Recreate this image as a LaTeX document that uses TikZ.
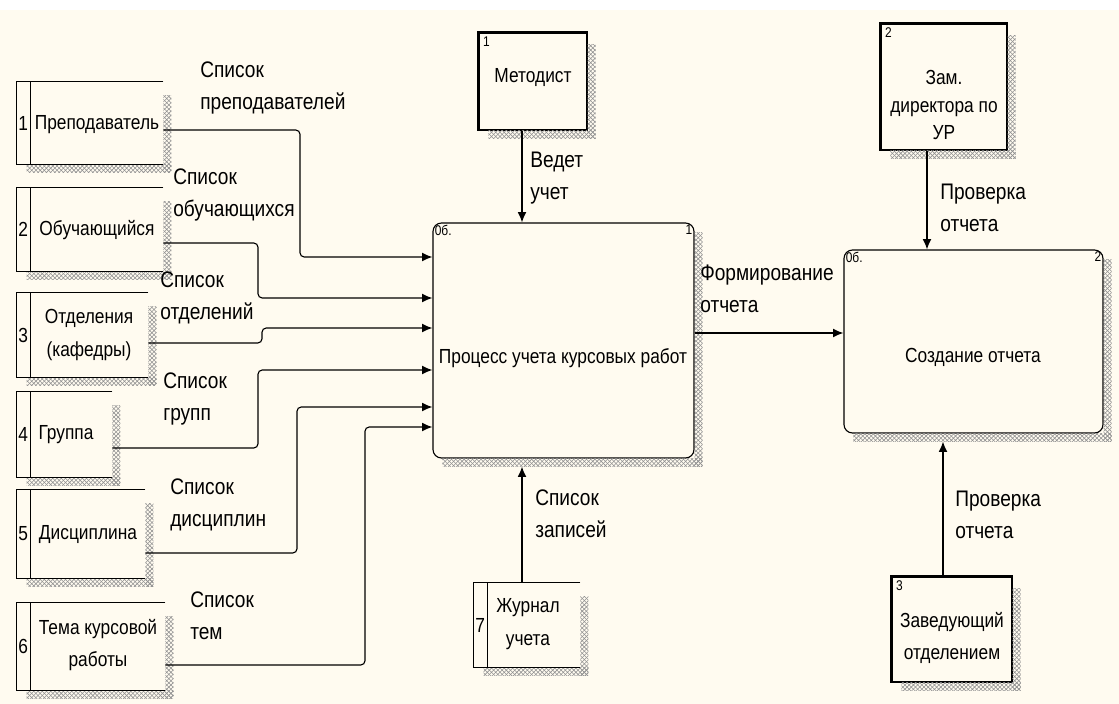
\documentclass[tikz,border=0pt]{standalone}
\usepackage{fontspec}
\usepackage{tikz}
\usetikzlibrary{arrows.meta, positioning, fit, patterns}
\newfontfamily\bpfont{Liberation Sans}[FakeStretch=0.85]
\definecolor{paper}{RGB}{255,251,240}

\tikzset{
  rule/.style={line width=0.8pt},
  hatch/.style={pattern=crosshatch, pattern color=gray!85},
  flow/.style={rule, rounded corners=3pt, -{Latex[length=2.6mm,width=2.2mm]}},
  lbl/.style={font=\bpfont\fontsize{16}{22.5}\selectfont, align=left, anchor=west, inner sep=0pt},
  btxt/.style={font=\bpfont\fontsize{14.5}{23}\selectfont, align=center, inner sep=0pt},
  tag/.style={font=\bpfont\fontsize{10}{11}\selectfont, inner sep=1.5pt},
  store/.style={inner sep=0pt},
  extbox/.style={rule, draw, inner sep=0pt},
  procbox/.style={rule, draw, rounded corners=6pt, inner sep=0pt},
}

\begin{document}
\begin{tikzpicture}[x=0.025cm, y=-0.025cm]
  \useasboundingbox (0,0) rectangle (1119,704);
  \fill[paper] (0,10) rectangle (1119,704);

  \node[store, fit={(31,82) (163,164)}, label={[btxt, label distance=0.6mm]left:1}] (s1) {};
  \node[store, fit={(31,188) (163,271)}, label={[btxt, label distance=0.6mm]left:2}] (s2) {};
  \node[store, fit={(31,293) (148,377)}, label={[btxt, label distance=0.6mm]left:3}] (s3) {};
  \node[store, fit={(31,392) (112,477)}, label={[btxt, label distance=0.6mm]left:4}] (s4) {};
  \node[store, fit={(31,490) (145,578)}, label={[btxt, label distance=0.6mm]left:5}] (s5) {};
  \node[store, fit={(31,603) (165,690)}, label={[btxt, label distance=0.6mm]left:6}] (s6) {};
  \node[store, fit={(488,583) (580,667)}, label={[btxt, label distance=0.6mm]left:7}] (s7) {};
  \node[btxt] (s1t) at (97,125) {Преподаватель};
  \node[btxt] (s2t) at (97,230) {Обучающийся};
  \node[btxt] (s3t) at (89,335) {Отделения\\(кафедры)};
  \node[btxt] (s4t) at (66,435) {Группа};
  \node[btxt] (s5t) at (88,535) {Дисциплина};
  \node[btxt] (s6t) at (98,645) {Тема курсовой\\работы};
  \node[btxt] (s7t) at (528,624) {Журнал\\учета};

  \node[extbox, fit={(479,33) (587,130)}, label={[tag, anchor=north west, xshift=0.6mm, yshift=-0.5mm]north west:1}] (m1) {};
  \node[extbox, fit={(881,24) (1007,150)}, label={[tag, anchor=north west, xshift=0.6mm, yshift=-0.5mm]north west:2}] (m2) {};
  \node[extbox, fit={(892,577) (1012,682)}, label={[tag, anchor=north west, xshift=0.6mm, yshift=-0.5mm]north west:3}] (m3) {};
  \node[btxt] (m1t) at (533,78) {Методист};
  \node[btxt, font=\bpfont\fontsize{14.5}{19.5}\selectfont] (m2t) at (944,105) {Зам.\\директора по\\УР};
  \node[btxt] (m3t) at (952,638) {Заведующий\\отделением};

  \node[procbox, fit={(433,223) (694,458)}, label={[tag, anchor=north west]north west:0б.}, label={[tag, anchor=north east]north east:1}] (p1) {};
  \node[procbox, fit={(844,250) (1103,433)}, label={[tag, anchor=north west]north west:0б.}, label={[tag, anchor=north east]north east:2}] (p2) {};
  \node[btxt] (p1t) at (563,358) {Процесс учета курсовых работ};
  \node[btxt] (p2t) at (973,357) {Создание отчета};

  \foreach \n in {s1,s2,s3,s4,s5,s6,s7} {
    \fill[hatch] ([yshift=-3.5mm]\n.north east) rectangle ([xshift=2mm,yshift=-2mm]\n.south east);
    \fill[hatch] ([xshift=-1mm]\n.south west) rectangle ([xshift=2mm,yshift=-2mm]\n.south east);
    \draw[rule] (\n.north east) -- ([xshift=-3.5mm]\n.north west) -- ([xshift=-3.5mm]\n.south west) -- (\n.south east);
    \draw[rule] (\n.north west) -- (\n.south west);
  }
  \foreach \n in {m1,m2,m3} {
    \fill[hatch] ([yshift=-3mm]\n.north east) rectangle ([xshift=2mm,yshift=-2mm]\n.south east);
    \fill[hatch] ([xshift=2.5mm]\n.south west) rectangle ([xshift=2mm,yshift=-2mm]\n.south east);
    \draw[line width=2.4pt] (\n.south west) -- (\n.north west) -- (\n.north east);
  }
  \foreach \n in {p1,p2} {
    \fill[hatch] ([yshift=-2.5mm]\n.north east) rectangle ([xshift=2mm,yshift=-2mm]\n.south east);
    \fill[hatch] ([xshift=2.5mm]\n.south west) rectangle ([xshift=2mm,yshift=-2mm]\n.south east);
  }

  \draw[flow] (s1.east |- 0,130) -- (300,130) -- (300,257) -- (p1.west |- 0,257);
  \draw[flow] (s2.east |- 0,243) -- (258,243) -- (258,298) -- (p1.west |- 0,298);
  \draw[flow] (s3.east |- 0,343) -- (262,343) -- (262,328) -- (p1.west |- 0,328);
  \draw[flow] (s4.east |- 0,448) -- (258,448) -- (258,370) -- (p1.west |- 0,370);
  \draw[flow] (s5.east |- 0,553) -- (297,553) -- (297,407) -- (p1.west |- 0,407);
  \draw[flow] (s6.east |- 0,665) -- (365,665) -- (365,427) -- (p1.west |- 0,427);
  \draw[flow] (m1.south -| 522,0) -- (p1.north -| 522,0);
  \draw[flow] (p1.east |- 0,333) -- (p2.west |- 0,333);
  \draw[flow] (m2.south -| 927,0) -- (p2.north -| 927,0);
  \draw[flow] (m3.north -| 943,0) -- ([yshift=-2mm]p2.south -| 943,0);
  \draw[flow] (s7.north -| 522,0) -- ([yshift=-2mm]p1.south -| 522,0);

  \node[lbl] (l1) at (200,88) {Список\\преподавателей};
  \node[lbl] (l2) at (173,195) {Список\\обучающихся};
  \node[lbl] (l3) at (160,298) {Список\\отделений};
  \node[lbl] (l4) at (163,399) {Список\\групп};
  \node[lbl] (l5) at (170,505) {Список\\дисциплин};
  \node[lbl] (l6) at (190,616) {Список\\тем};
  \node[lbl] (l7) at (530,178) {Ведет\\учет};
  \node[lbl] (l8) at (700,289) {Формирование\\отчета};
  \node[lbl] (l9) at (940,208) {Проверка\\отчета};
  \node[lbl] (l10) at (955,515) {Проверка\\отчета};
  \node[lbl] (l11) at (535,514) {Список\\записей};
\end{tikzpicture}
\end{document}
